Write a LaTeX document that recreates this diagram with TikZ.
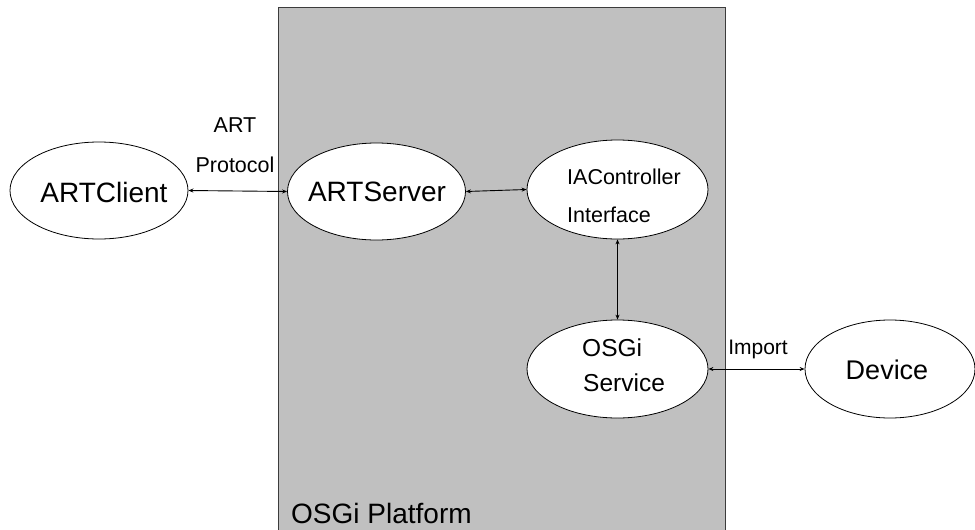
\documentclass[tikz,border=0pt]{standalone}
\usepackage{fontspec}
\setmainfont{Liberation Sans}
\usetikzlibrary{shapes.geometric,arrows.meta}
\tikzset{
  oval/.style={draw=black, fill=white, ellipse, line width=0.8pt,
    minimum width=178pt, minimum height=97pt, inner sep=0pt},
  link/.style={line width=0.9pt, {Stealth[length=5pt,width=4pt]}-{Stealth[length=5pt,width=4pt]}},
  txt/.style={inner sep=0pt, text=black},
  big/.style={font=\fontsize{28pt}{30pt}\selectfont},
  small/.style={font=\fontsize{21.5pt}{24pt}\selectfont},
}
\begin{document}
\begin{tikzpicture}[x=1pt,y=-1pt]
\useasboundingbox (0,0) rectangle (975,530);
% platform box (open at the bottom edge)
\path[fill={rgb,255:red,192;green,192;blue,192}] (278,7) rectangle (725,532);
\draw[line width=1pt, draw={rgb,255:red,60;green,60;blue,60}] (278,532) -- (278,7) -- (725,7) -- (725,532);
\node[txt, big, anchor=west] (plat) at (291,513) {OSGi Platform};

% components
\node[oval] (client) at (99,190.5) {};
\node[txt, big] (clientt) at (104,192) {ARTClient};
\node[oval] (server) at (376.5,191.5) {};
\node[txt, big] (servert) at (377,192) {ARTServer};
\node[oval, minimum width=181pt, minimum height=99pt] (ctrl) at (617.5,189.5) {};
\node[txt, small, anchor=west] (ctrl1) at (567,177) {IAController};
\node[txt, small, anchor=west] (ctrl2) at (567,215) {Interface};
\node[oval, minimum width=181pt, minimum height=98pt] (svc) at (617.5,369) {};
\node[txt, font=\fontsize{24.5pt}{26pt}\selectfont, anchor=west] (svc1) at (582,348) {OSGi};
\node[txt, font=\fontsize{24.5pt}{26pt}\selectfont, anchor=west] (svc2) at (583,383) {Service};
\node[oval, minimum width=170pt, minimum height=98pt] (dev) at (890,369) {};
\node[txt, font=\fontsize{27pt}{29pt}\selectfont] (devt) at (887,370) {Device};

% connectors
\draw[link] (client.east) -- (server.west);
\draw[link] (server.east) -- (ctrl.west);
\draw[link] (ctrl.south) -- (svc.north);
\draw[link] (svc.east) -- (dev.west);

% connector labels
\node[txt, small] (lab1) at (235,125) {ART};
\node[txt, small] (lab2) at (235,165) {Protocol};
\node[txt, font=\fontsize{21pt}{23pt}\selectfont] (lab3) at (758,349) {Import};
\end{tikzpicture}
\end{document}
